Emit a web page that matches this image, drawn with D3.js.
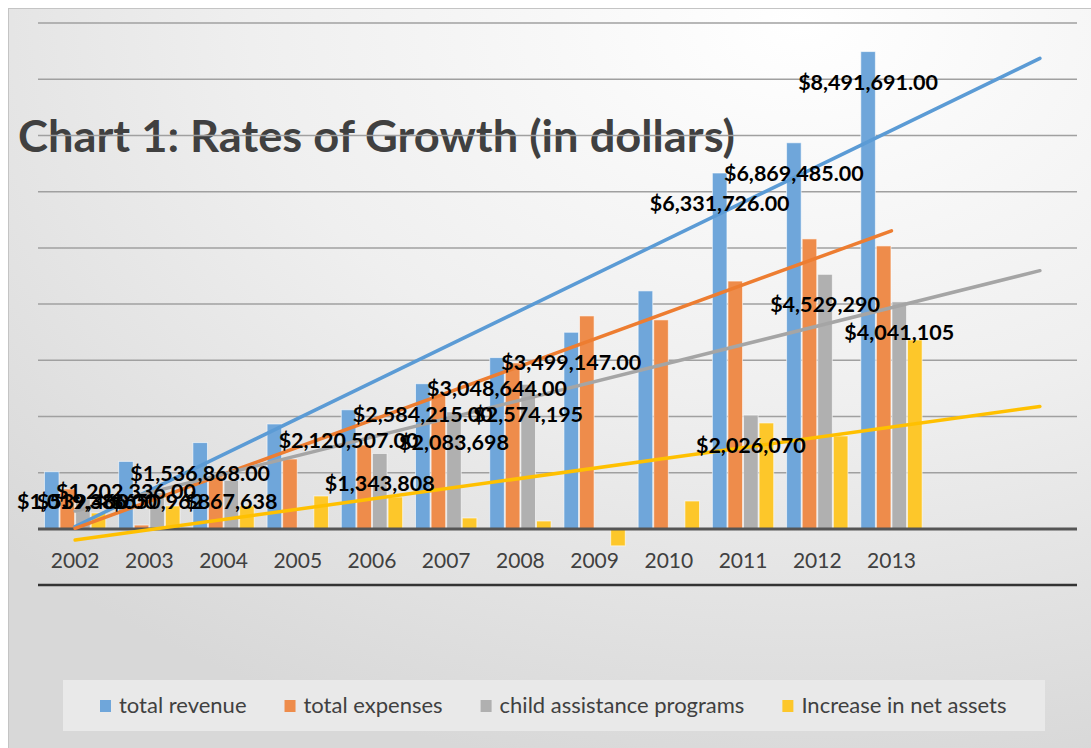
<!DOCTYPE html>
<html>
<head>
<meta charset="utf-8">
<script src="https://cdn.jsdelivr.net/npm/d3@7"></script>
<style>
	body { margin: 0; background: #fff; }
	svg { display: block; font-family: Lato, 'Open Sans', sans-serif; }
</style>
</head>
<body>
<div id="chart"></div>
<script>
// categories (two extra empty slots hold the trendline forecast)
const years = ['2002', '2003', '2004', '2005', '2006', '2007', '2008', '2009', '2010', '2011', '2012', '2013']
const forecastSlots = ['f2014', 'f2015']

const seriesNames = ['total revenue', 'total expenses', 'child assistance programs', 'Increase in net assets']
const seriesColors = ['#6fa6da', '#ee8c4b', '#b0b0b0', '#fdc72a']
const trendColors = ['#5b9bd5', '#ed7d31', '#a5a5a5', '#ffc000']
const trendForward = [2, 0, 2, 2]

const totalRevenue = [1019386, 1202336, 1536868, 1868000, 2120507, 2584215, 3048644, 3499147, 4235000, 6331726, 6869485, 8491691]
const totalExpenses = [712000, 70000, 925000, 1245000, 1495000, 2384000, 2954000, 3790000, 3720000, 4410000, 5160000, 5035000]
const childAssistance = [539460, 650962, 867638, null, 1343808, 2083698, 2574195, null, null, 2026070, 4529290, 4041105]
const netAssetsIncrease = [285000, 410000, 410000, 587000, 570000, 196000, 142000, -300000, 498000, 1886000, 1655000, 3363000]

// which bars carry a data label
const revenueLabelled = [true, true, true, false, true, true, true, true, false, true, true, true]
const childLabelled = [true, true, true, false, true, true, true, false, false, true, true, true]

const series = [totalRevenue, totalExpenses, childAssistance, netAssetsIncrease]

var width = 1091
var height = 748

var svg = d3.select('#chart')
	.append('svg')
	.attr('width', width)
	.attr('height', height)

// background gradient
var grad = svg.append('defs')
	.append('radialGradient')
	.attr('id', 'bg')
	.attr('cx', 0.72).attr('cy', 0.02).attr('r', 1.0)
grad.append('stop').attr('offset', 0).attr('stop-color', '#ffffff')
grad.append('stop').attr('offset', 0.5).attr('stop-color', '#efefef')
grad.append('stop').attr('offset', 1).attr('stop-color', '#d8d8d8')

svg.append('rect')
	.attr('x', 8.5).attr('y', 8.5)
	.attr('width', 1100).attr('height', 760)
	.attr('fill', 'url(#bg)')
	.attr('stroke', '#c4c4c4')

// scales
var x0 = d3.scaleBand()
	.domain(years.concat(forecastSlots))
	.range([38, 1077])
var bw = x0.bandwidth()
var x1 = d3.scaleBand()
	.domain(d3.range(series.length))
	.range([bw * 0.08, bw * 0.92])
var y = d3.scaleLinear()
	.domain([0, 9e6])
	.range([529, 23])
// category index -> centre of its band
var xi = d3.scaleLinear()
	.domain([0, 1])
	.range([x0(years[0]) + bw / 2, x0(years[1]) + bw / 2])

// title (sits behind the gridlines like in the original)
svg.append('text')
	.attr('x', 18)
	.attr('y', 152)
	.attr('textLength', 717)
	.attr('lengthAdjust', 'spacingAndGlyphs')
	.style('font-size', '43px')
	.style('font-weight', 'bold')
	.style('fill', '#404040')
	.text('Chart 1: Rates of Growth (in dollars)')

// gridlines
svg.append('g')
	.selectAll('line')
	.data(y.ticks(9).filter(d => d > 0))
	.enter()
	.append('line')
	.attr('x1', 38).attr('x2', 1077)
	.attr('y1', d => y(d)).attr('y2', d => y(d))
	.attr('stroke', '#a0a0a0')
	.attr('stroke-width', 1.5)

// bars
var groups = svg.append('g')
	.selectAll('g')
	.data(years)
	.enter()
	.append('g')
	.attr('transform', d => 'translate(' + x0(d) + ',0)')

groups.selectAll('rect')
	.data((d, i) => series.map((s, k) => ({ k: k, v: s[i] })).filter(d => d.v !== null))
	.enter()
	.append('rect')
	.attr('x', d => x1(d.k) + 0.5)
	.attr('width', x1.bandwidth() - 1)
	.attr('y', d => y(Math.max(0, d.v)))
	.attr('height', d => Math.abs(y(d.v) - y(0)))
	.attr('fill', d => seriesColors[d.k])
	.attr('stroke', 'rgba(255,255,255,0.6)')
	.attr('stroke-width', 1)

// zero line
svg.append('line')
	.attr('x1', 38).attr('x2', 1077)
	.attr('y1', y(0)).attr('y2', y(0))
	.attr('stroke', '#555')
	.attr('stroke-width', 3)

// linear trendlines (least squares on category index, blanks skipped)
function trend(values) {
	var pts = values.map((v, i) => [i, v]).filter(p => p[1] !== null)
	var mx = d3.mean(pts, p => p[0])
	var my = d3.mean(pts, p => p[1])
	var sxy = d3.sum(pts, p => (p[0] - mx) * (p[1] - my))
	var sxx = d3.sum(pts, p => (p[0] - mx) * (p[0] - mx))
	var slope = sxy / sxx
	return i => my + slope * (i - mx)
}

var line = d3.line()
	.x(d => xi(d[0]))
	.y(d => y(d[1]))

series.forEach((s, k) => {
	var f = trend(s)
	var last = s.length - 1 + trendForward[k]
	svg.append('path')
		.attr('d', line([[0, f(0)], [last, f(last)]]))
		.attr('stroke', trendColors[k])
		.attr('stroke-width', 3.5)
		.attr('fill', 'none')
		.attr('stroke-linecap', 'round')
})

// data labels (inside end, kept above the zero line)
var fmtDec = d3.format('$,.2f')
var fmtInt = d3.format('$,')
var labelData = []
years.forEach((yr, i) => {
	if (revenueLabelled[i]) labelData.push({ yr: yr, k: 0, v: totalRevenue[i], t: fmtDec(totalRevenue[i]) })
	if (childLabelled[i] && childAssistance[i] !== null) labelData.push({ yr: yr, k: 2, v: childAssistance[i], t: fmtInt(childAssistance[i]) })
})

svg.append('g')
	.selectAll('text')
	.data(labelData)
	.enter()
	.append('text')
	.attr('x', d => x0(d.yr) + x1(d.k) + x1.bandwidth() / 2)
	.attr('y', d => Math.min(y(d.v) + 38, y(0) - 20))
	.attr('text-anchor', 'middle')
	.style('font-size', '21.5px')
	.style('font-weight', 'bold')
	.style('fill', '#000')
	.text(d => d.t)
	.each(function() {
		// keep labels inside the chart area
		var b = this.getBBox()
		if (b.x < 17) d3.select(this).attr('x', +d3.select(this).attr('x') + (17 - b.x))
	})

// category axis
var axis = svg.append('g')
	.attr('transform', 'translate(0,' + y(0) + ')')
	.call(d3.axisBottom(x0).tickValues(years).tickSize(0).tickPadding(24))
axis.select('.domain').remove()
axis.selectAll('text')
	.style('font-size', '21px')
	.style('font-family', 'Lato, sans-serif')
	.style('fill', '#404040')

// lower rule
svg.append('line')
	.attr('x1', 38).attr('x2', 1077)
	.attr('y1', 585).attr('y2', 585)
	.attr('stroke', '#333')
	.attr('stroke-width', 2.5)

// legend
var legend = svg.append('g')
legend.append('rect')
	.attr('x', 63).attr('y', 680)
	.attr('width', 982).attr('height', 51)
	.attr('fill', '#e9e9e9')

var lx = 100
seriesNames.forEach((name, k) => {
	legend.append('rect')
		.attr('x', lx).attr('y', 700)
		.attr('width', 11).attr('height', 12)
		.attr('fill', seriesColors[k])
	var t = legend.append('text')
		.attr('x', lx + 19)
		.attr('y', 713)
		.style('font-size', '22px')
		.style('fill', '#404040')
		.text(name)
	lx += 19 + t.node().getComputedTextLength() + 38
})
</script>
</body>
</html>
